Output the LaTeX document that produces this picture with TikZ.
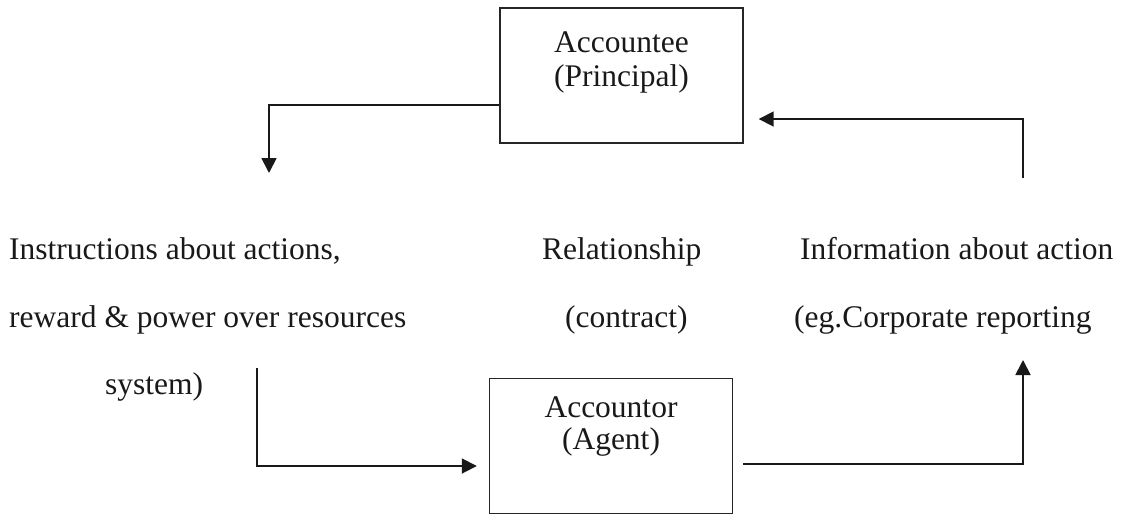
\documentclass[tikz,border=0pt]{standalone}
\usepackage{fontspec}
\setmainfont{Liberation Serif}
\usetikzlibrary{arrows.meta, positioning}

\begin{document}
\begin{tikzpicture}[
  x=1pt, y=-1pt,
  party/.style={draw=black!85, line width=1.4pt, minimum width=243pt, minimum height=135pt, inner sep=0pt},
  arrow/.style={-{Triangle[length=15pt, width=15pt]}, line width=1.8pt, black!90},
  txt/.style={font=\fontsize{31.5}{36}\selectfont, anchor=base, inner sep=0pt, text=black!90},
  ltxt/.style={txt, anchor=base west}
]
\useasboundingbox (0,0) rectangle (1121,515);

\node[party] (principal) at (621.5,75.5) {};
\node[party] (agent) at (611,446) {};

\node[txt] (principal-name) at (621.5,52) {Accountee};
\node[txt] (principal-role) at (621.5,86) {(Principal)};
\node[txt] (agent-name) at (611,417) {Accountor};
\node[txt] (agent-role) at (611,449) {(Agent)};

\node[ltxt] (instr1) at (9,259) {Instructions about actions,};
\node[ltxt] (instr2) at (9,327) {reward \& power over resources};
\node[ltxt] (instr3) at (105,394) {system)};
\node[ltxt] (rel1) at (542,259) {Relationship};
\node[ltxt] (rel2) at (565,327) {(contract)};
\node[ltxt] (info1) at (800,259) {Information about action};
\node[ltxt] (info2) at (794,327) {(eg.Corporate reporting};

\coordinate (instr-in) at (269,173);
\coordinate (instr-out) at (257,368);
\coordinate (info-in) at (1023,360);
\coordinate (info-out) at (1023,178);

\draw[arrow] ([yshift=-29.5pt]principal.west) -| (instr-in);
\draw[arrow] (instr-out) |- ([xshift=-12pt,yshift=-20pt]agent.west);
\draw[arrow] ([xshift=10pt,yshift=-18pt]agent.east) -| (info-in);
\draw[arrow] (info-out) |- ([xshift=15pt,yshift=-43.5pt]principal.east);

\end{tikzpicture}
\end{document}
